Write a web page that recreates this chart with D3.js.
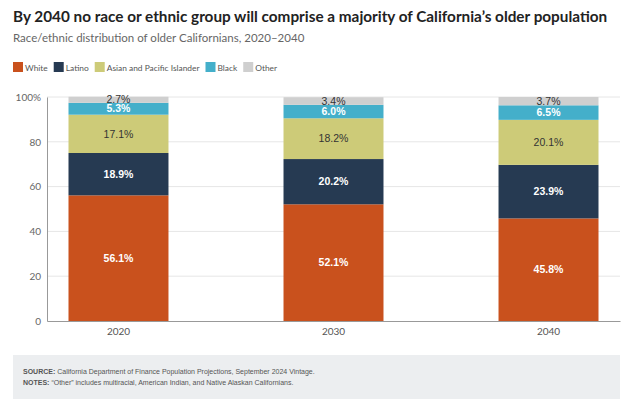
<!DOCTYPE html>
<html>
<head>
<meta charset="utf-8">
<script src="https://cdn.jsdelivr.net/npm/d3@7"></script>
<style>
  body { margin: 0; background: #fff; }
  svg { display: block; }
</style>
</head>
<body>
<div id="chart"></div>
<script>
// data
const years = ['2020', '2030', '2040'];
const groups = ['White', 'Latino', 'Asian and Pacific Islander', 'Black', 'Other'];
const white = [56.1, 52.1, 45.8];
const latino = [18.9, 20.2, 23.9];
const asianPI = [17.1, 18.2, 20.1];
const black = [5.3, 6.0, 6.5];
const other = [2.7, 3.4, 3.7];
const yTicks = [0, 20, 40, 60, 80, 100];

const colors = ['#c9511d', '#263a52', '#cdcb78', '#44afca', '#cfcfcf'];
const labelColors = ['#fff', '#fff', '#333', '#fff', '#333'];
const labelWeights = ['bold', 'bold', 'normal', 'bold', 'normal'];

const rows = years.map((y, i) => ({
  year: y,
  White: white[i],
  Latino: latino[i],
  'Asian and Pacific Islander': asianPI[i],
  Black: black[i],
  Other: other[i]
}));

const W = 624, H = 399;
const margin = { top: 97, right: 4, bottom: 78, left: 47 };

const svg = d3.select('#chart').append('svg')
  .attr('width', W).attr('height', H);

// title + subtitle
svg.append('text')
  .attr('x', 13).attr('y', 22)
  .style('font-family', 'Lato, sans-serif')
  .style('font-weight', 'bold')
  .style('font-size', '15.3px')
  .style('fill', '#222')
  .text('By 2040 no race or ethnic group will comprise a majority of California\u2019s older population');
svg.append('text')
  .attr('x', 13).attr('y', 42)
  .style('font-family', 'Lato, sans-serif')
  .style('font-size', '11.5px')
  .style('fill', '#666')
  .text('Race/ethnic distribution of older Californians, 2020\u20132040');

// legend
const legend = svg.append('g').attr('transform', 'translate(13,62)');
let lx = 0;
groups.forEach((g, i) => {
  const item = legend.append('g').attr('transform', 'translate(' + lx + ',0)');
  item.append('rect').attr('width', 10).attr('height', 10).attr('fill', colors[i]);
  const t = item.append('text')
    .attr('x', 12).attr('y', 8.5)
    .style('font-family', 'Lato, sans-serif')
    .style('font-size', '8.4px')
    .style('fill', '#555')
    .text(g);
  lx += 12 + t.node().getComputedTextLength() + 6;
});

// scales
const x = d3.scaleBand()
  .domain(years)
  .range([margin.left, W - margin.right])
  .paddingInner(0.535)
  .paddingOuter(0.1);
const y = d3.scaleLinear()
  .domain([0, 100])
  .range([H - margin.bottom, margin.top]);

// gridlines
svg.append('g')
  .selectAll('line')
  .data(yTicks.filter(d => d > 0))
  .join('line')
  .attr('x1', margin.left).attr('x2', W - margin.right)
  .attr('y1', d => y(d)).attr('y2', d => y(d))
  .attr('stroke', '#e6e6e6');

// y axis
const yAxis = svg.append('g')
  .attr('transform', 'translate(' + margin.left + ',0)')
  .call(d3.axisLeft(y).tickValues(yTicks).tickSize(0).tickPadding(6)
    .tickFormat(d => d === 100 ? '100%' : d));
yAxis.select('.domain').attr('stroke', '#999');
yAxis.selectAll('text')
  .style('font-family', 'Lato, sans-serif')
  .style('font-size', '10px')
  .style('fill', '#666');

// stacked bars
const stack = d3.stack().keys(groups);
const series = stack(rows);

const layer = svg.append('g').selectAll('g')
  .data(series)
  .join('g')
  .attr('fill', (d, i) => colors[i]);

layer.selectAll('rect')
  .data(d => d)
  .join('rect')
  .attr('x', d => x(d.data.year))
  .attr('width', x.bandwidth())
  .attr('y', d => y(d[1]))
  .attr('height', d => y(d[0]) - y(d[1]));

// value labels
series.forEach((s, i) => {
  svg.append('g').selectAll('text')
    .data(s)
    .join('text')
    .attr('x', d => x(d.data.year) + x.bandwidth() / 2)
    .attr('y', d => y((d[0] + d[1]) / 2))
    .attr('dy', '0.35em')
    .attr('text-anchor', 'middle')
    .style('font-family', 'Liberation Sans, Arial, sans-serif')
    .style('font-size', '10.5px')
    .style('font-weight', labelWeights[i])
    .style('fill', labelColors[i])
    .text(d => d3.format('.1f')(d.data[s.key]) + '%');
});

// x axis
const xAxis = svg.append('g')
  .attr('transform', 'translate(0,' + (H - margin.bottom) + ')')
  .call(d3.axisBottom(x).tickSize(0).tickPadding(7));
xAxis.select('.domain').attr('stroke', '#999');
xAxis.selectAll('text')
  .style('font-family', 'Lato, sans-serif')
  .style('font-size', '10px')
  .style('fill', '#555');

// footer box
svg.append('rect')
  .attr('x', 13).attr('y', 355)
  .attr('width', 607).attr('height', 44)
  .attr('fill', '#eceef0');
const foot = svg.append('text')
  .attr('x', 23).attr('y', 374)
  .style('font-family', 'Liberation Sans, Arial, sans-serif')
  .style('font-size', '7px')
  .style('fill', '#555');
foot.append('tspan').style('font-weight', 'bold').text('SOURCE: ');
foot.append('tspan').text('California Department of Finance Population Projections, September 2024 Vintage.');
const foot2 = svg.append('text')
  .attr('x', 23).attr('y', 385)
  .style('font-family', 'Liberation Sans, Arial, sans-serif')
  .style('font-size', '7px')
  .style('fill', '#555');
foot2.append('tspan').style('font-weight', 'bold').text('NOTES: ');
foot2.append('tspan').text('\u201COther\u201D includes multiracial, American Indian, and Native Alaskan Californians.');
</script>
</body>
</html>
